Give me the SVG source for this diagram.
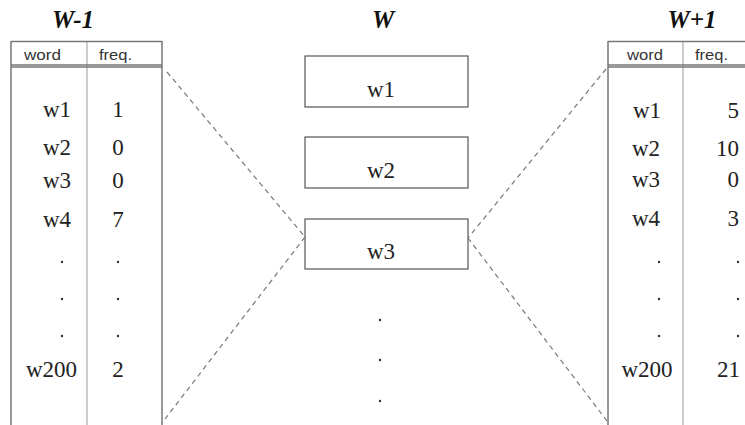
<svg xmlns="http://www.w3.org/2000/svg" width="745" height="425" viewBox="0 0 745 425">
<style>
.title{font-family:"Liberation Serif",serif;font-weight:bold;font-style:italic;font-size:25px;fill:#111}
.hdr{font-family:"Liberation Sans",sans-serif;font-size:14px;fill:#333}
.cell{font-family:"Liberation Serif",serif;font-size:23px;fill:#222}
.box{fill:#fff;stroke:#555;stroke-width:1.2}
.border{stroke:#999;stroke-width:2;fill:none}
.inner{stroke:#aaa;stroke-width:1.2;fill:none}
.hline{stroke:#777;stroke-width:1.5;fill:none}
.conn{stroke:#777;stroke-width:1.2;stroke-dasharray:5,4;fill:none}
.dot{fill:#333}
</style>
<rect width="745" height="425" fill="#fff"/>

<g id="table-left">
  <text class="title" x="73" y="28" text-anchor="middle">W-1</text>
  <line class="border" x1="11" y1="41" x2="11" y2="425"/>
  <line class="border" x1="162" y1="41" x2="162" y2="425"/>
  <line class="inner" x1="87" y1="41" x2="87" y2="425"/>
  <line class="hline" x1="11" y1="41.5" x2="162" y2="41.5"/>
  <line class="hline" x1="11" y1="65" x2="162" y2="65" stroke-width="1"/>
  <line class="hline" x1="11" y1="67" x2="162" y2="67" stroke-width="1"/>
  <text class="hdr" x="24" y="60" textLength="37" lengthAdjust="spacingAndGlyphs">word</text>
  <text class="hdr" x="99" y="60" textLength="33" lengthAdjust="spacingAndGlyphs">freq.</text>
  <g class="cell" text-anchor="end">
    <text x="71" y="117">w1</text>
    <text x="71" y="155">w2</text>
    <text x="71" y="188">w3</text>
    <text x="71" y="227">w4</text>
    <text x="77" y="377">w200</text>
  </g>
  <g class="cell" text-anchor="middle">
    <text x="118" y="117">1</text>
    <text x="118" y="155">0</text>
    <text x="118" y="188">0</text>
    <text x="118" y="227">7</text>
    <text x="118" y="377">2</text>
  </g>
  <circle class="dot" cx="62" cy="262" r="1.2"/>
  <circle class="dot" cx="62" cy="299" r="1.2"/>
  <circle class="dot" cx="62" cy="336" r="1.2"/>
  <circle class="dot" cx="118" cy="262" r="1.2"/>
  <circle class="dot" cx="118" cy="299" r="1.2"/>
  <circle class="dot" cx="118" cy="336" r="1.2"/>
</g>

<g id="center">
  <text class="title" x="383" y="28" text-anchor="middle">W</text>
</g>
<g id="box-w1">
  <rect class="box" x="305" y="56" width="163" height="51"/>
  <text class="cell" x="381" y="97" text-anchor="middle" font-size="22">w1</text>
</g>
<g id="box-w2">
  <rect class="box" x="305" y="137" width="163" height="51"/>
  <text class="cell" x="381" y="178" text-anchor="middle" font-size="22">w2</text>
</g>
<g id="box-w3">
  <rect class="box" x="305" y="219" width="163" height="50"/>
  <text class="cell" x="381" y="259" text-anchor="middle" font-size="22">w3</text>
</g>
<g id="center-dots">
  <circle class="dot" cx="380" cy="320" r="1.2"/>
  <circle class="dot" cx="380" cy="360" r="1.2"/>
  <circle class="dot" cx="380" cy="401" r="1.2"/>
</g>

<g id="table-right">
  <text class="title" x="692" y="28" text-anchor="middle">W+1</text>
  <line class="border" x1="608" y1="41" x2="608" y2="425"/>
  <line class="inner" x1="683" y1="41" x2="683" y2="425"/>
  <line class="hline" x1="608" y1="41.5" x2="745" y2="41.5"/>
  <line class="hline" x1="608" y1="65" x2="745" y2="65" stroke-width="1"/>
  <line class="hline" x1="608" y1="67" x2="745" y2="67" stroke-width="1"/>
  <text class="hdr" x="627" y="60" textLength="36" lengthAdjust="spacingAndGlyphs">word</text>
  <text class="hdr" x="695" y="60" textLength="33" lengthAdjust="spacingAndGlyphs">freq.</text>
  <g class="cell" text-anchor="middle">
    <text x="647" y="118">w1</text>
    <text x="646" y="156">w2</text>
    <text x="646" y="187">w3</text>
    <text x="646" y="226">w4</text>
    <text x="647" y="377">w200</text>
  </g>
  <g class="cell" text-anchor="end">
    <text x="739" y="118">5</text>
    <text x="739" y="156">10</text>
    <text x="739" y="187">0</text>
    <text x="739" y="226">3</text>
    <text x="740" y="377">21</text>
  </g>
  <circle class="dot" cx="659" cy="262" r="1.2"/>
  <circle class="dot" cx="659" cy="299" r="1.2"/>
  <circle class="dot" cx="659" cy="336" r="1.2"/>
  <circle class="dot" cx="738" cy="262" r="1.2"/>
  <circle class="dot" cx="738" cy="299" r="1.2"/>
  <circle class="dot" cx="738" cy="336" r="1.2"/>
</g>

<g id="connectors">
  <line class="conn" x1="167" y1="72" x2="305" y2="237"/>
  <line class="conn" x1="305" y1="237" x2="165" y2="419"/>
  <line class="conn" x1="606" y1="69" x2="468" y2="238"/>
  <line class="conn" x1="468" y1="238" x2="607" y2="421"/>
</g>
</svg>
